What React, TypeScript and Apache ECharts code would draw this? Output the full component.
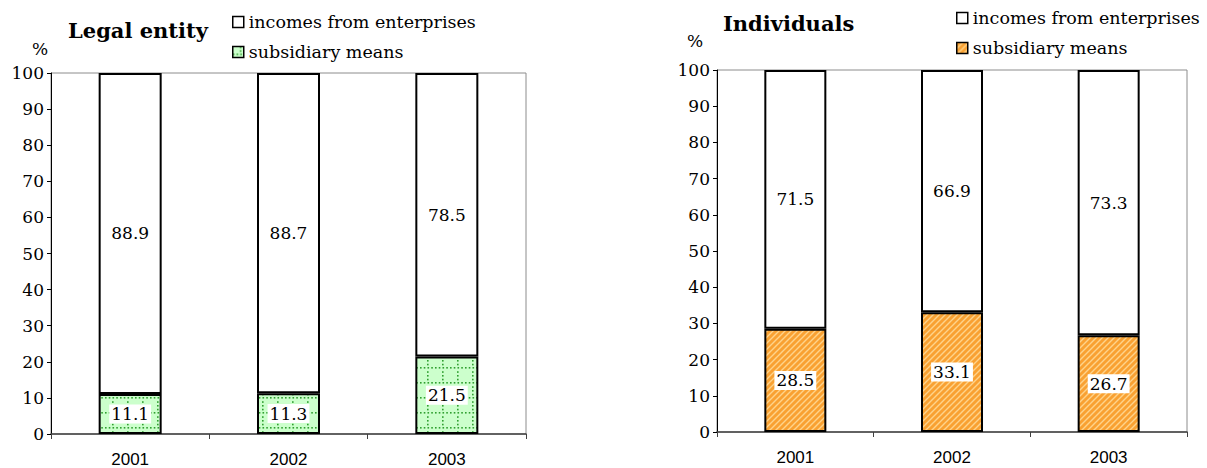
import React, { useEffect, useRef } from "react";
import * as echarts from "echarts";

const years = ["2001", "2002", "2003"];
const legalSubsidiary = [11.1, 11.3, 21.5];
const legalIncomes = [88.9, 88.7, 78.5];
const indivSubsidiary = [28.5, 33.1, 26.7];
const indivIncomes = [71.5, 66.9, 73.3];
const incomesName = "incomes from enterprises";
const subsidiaryName = "subsidiary means";

const SERIF = "'DejaVu Serif', serif";
const SANS = "'Liberation Sans', Arial, sans-serif";

function svgUri(svg: string) {
  return "data:image/svg+xml;charset=utf-8," + encodeURIComponent(svg);
}

const greenTile = (() => {
  let dots = "";
  for (let i = 0; i < 4; i++) {
    const p = i * 3.75;
    dots += `<rect x='${p}' y='7' width='1.6' height='1.6'/>`;
    if (Math.abs(p - 7.5) > 0.1) dots += `<rect x='7' y='${p}' width='1.6' height='1.6'/>`;
  }
  return svgUri(
    `<svg xmlns='http://www.w3.org/2000/svg' width='15' height='15'><rect width='15' height='15' fill='#ccffcc'/><g fill='#2f9f2f'>${dots}</g></svg>`
  );
})();

const orangeTile = svgUri(
  `<svg xmlns='http://www.w3.org/2000/svg' width='6' height='6'><rect width='6' height='6' fill='#f9a132'/><path d='M0,6 L6,0 M-1,1 L1,-1 M5,7 L7,5' stroke='#ffd38a' stroke-width='1.4'/></svg>`
);

const greenPattern: any = { image: greenTile, repeat: "repeat", imageWidth: 15, imageHeight: 15 };
const orangePattern: any = { image: orangeTile, repeat: "repeat", imageWidth: 6, imageHeight: 6 };

export default function App() {
  const ref = useRef<HTMLDivElement>(null);
  useEffect(() => {
    if (!ref.current) return;
    const chart = echarts.init(ref.current, undefined, { renderer: "svg" });

    const yAxisBase = (gridIndex: number) => ({
      type: "value",
      gridIndex,
      min: 0,
      max: 100,
      interval: 10,
      axisLine: { show: true, lineStyle: { color: "#000", width: 1 } },
      axisTick: { show: true, length: 4, lineStyle: { color: "#000" } },
      axisLabel: { color: "#000", fontFamily: SERIF, fontSize: 17, margin: 7 },
      splitLine: { show: false },
    });
    const xAxisBase = (gridIndex: number) => ({
      type: "category",
      gridIndex,
      data: years,
      axisLine: { show: true, lineStyle: { color: "#404040", width: 1.5 } },
      axisTick: { show: true, length: 5, lineStyle: { color: "#404040" } },
      axisLabel: { color: "#000", fontFamily: SANS, fontSize: 17, margin: 17 },
    });
    const label = {
      show: true,
      position: "inside",
      color: "#000",
      fontFamily: SERIF,
      fontSize: 17,
      backgroundColor: "#fff",
      padding: [1, 2],
    };
    const legendBase = {
      orient: "vertical",
      icon: "rect",
      itemWidth: 11,
      itemHeight: 11,
      itemGap: 12,
      padding: 0,
      selectedMode: false,
      textStyle: { fontFamily: SERIF, fontSize: 17.5, color: "#000" },
    };

    chart.setOption({
      animation: false,
      backgroundColor: "#fff",
      title: [
        { text: "Legal entity", left: 63, top: 15, textStyle: { fontFamily: SERIF, fontWeight: "bold", fontSize: 21, color: "#000" } },
        { text: "%", left: 27, top: 35, textStyle: { fontFamily: SERIF, fontWeight: "normal", fontSize: 17, color: "#000" } },
        { text: "Individuals", left: 718, top: 8, textStyle: { fontFamily: SERIF, fontWeight: "bold", fontSize: 21, color: "#000" } },
        { text: "%", left: 682, top: 27, textStyle: { fontFamily: SERIF, fontWeight: "normal", fontSize: 17, color: "#000" } },
      ],
      legend: [
        {
          ...legendBase,
          left: 232,
          top: 13,
          data: [
            { name: incomesName, itemStyle: { color: "#fff", borderColor: "#000", borderWidth: 1.5 } },
            { name: subsidiaryName, itemStyle: { color: greenPattern, borderColor: "#000", borderWidth: 1.5 } },
          ],
        },
        {
          ...legendBase,
          left: 956,
          top: 9,
          data: [
            { name: incomesName, itemStyle: { color: "#fff", borderColor: "#000", borderWidth: 1.5 } },
            { name: subsidiaryName, itemStyle: { color: orangePattern, borderColor: "#000", borderWidth: 1.5 } },
          ],
        },
      ],
      grid: [
        { left: 51, top: 73, width: 475, height: 361, show: true, borderColor: "#8c8c8c", borderWidth: 1, backgroundColor: "transparent" },
        { left: 717, top: 70, width: 470, height: 362, show: true, borderColor: "#8c8c8c", borderWidth: 1, backgroundColor: "transparent" },
      ],
      xAxis: [xAxisBase(0), xAxisBase(1)],
      yAxis: [yAxisBase(0), yAxisBase(1)],
      series: [
        {
          name: subsidiaryName, type: "bar", stack: "L", xAxisIndex: 0, yAxisIndex: 0, barWidth: 63,
          data: legalSubsidiary,
          itemStyle: { color: greenPattern, borderColor: "#000", borderWidth: 2 },
          label,
        },
        {
          name: incomesName, type: "bar", stack: "L", xAxisIndex: 0, yAxisIndex: 0, barWidth: 63,
          data: legalIncomes,
          itemStyle: { color: "#fff", borderColor: "#000", borderWidth: 2 },
          label,
        },
        {
          name: subsidiaryName, type: "bar", stack: "R", xAxisIndex: 1, yAxisIndex: 1, barWidth: 62,
          data: indivSubsidiary,
          itemStyle: { color: orangePattern, borderColor: "#000", borderWidth: 2 },
          label,
        },
        {
          name: incomesName, type: "bar", stack: "R", xAxisIndex: 1, yAxisIndex: 1, barWidth: 62,
          data: indivIncomes,
          itemStyle: { color: "#fff", borderColor: "#000", borderWidth: 2 },
          label,
        },
      ],
    } as any);
    return () => chart.dispose();
  }, []);
  return (
    <div
      ref={ref}
      style={{ position: "absolute", left: 0, top: 0, width: 1207, height: 468 }}
    />
  );
}
